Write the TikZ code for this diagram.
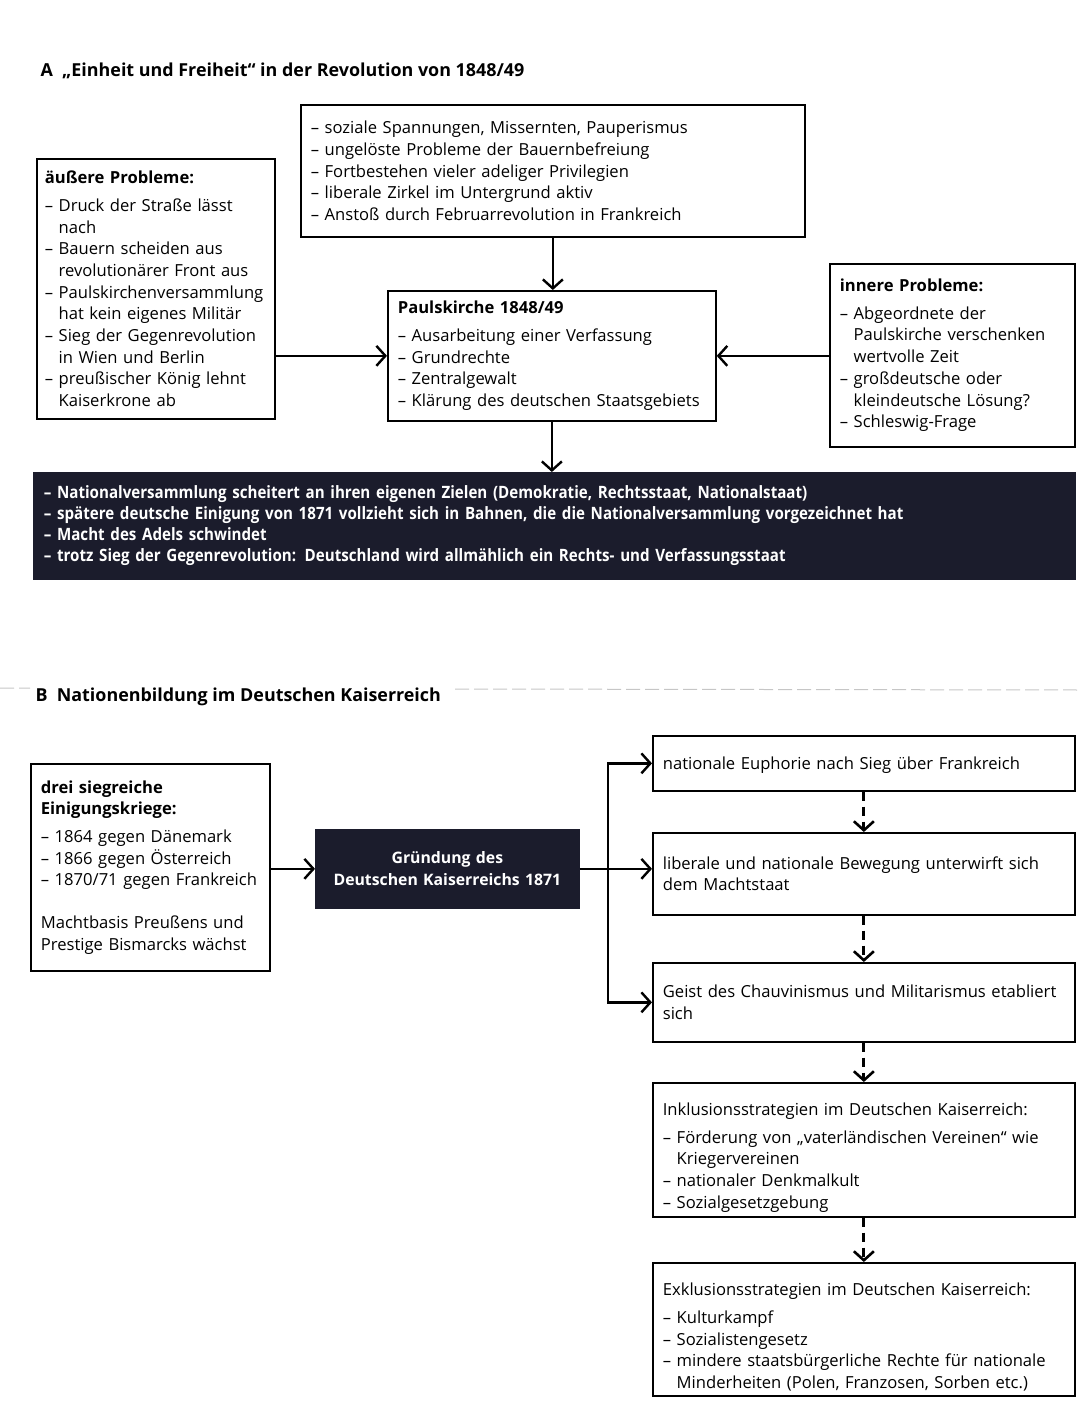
\documentclass[tikz,border=0pt]{standalone}
\usepackage{fontspec}
\setmainfont{Open Sans}
\newfontfamily\schmal[FakeStretch=0.89]{Open Sans}
\usetikzlibrary{arrows.meta}
\definecolor{nacht}{HTML}{1B1C2C}
\newlength\strichbreite
\newcommand{\punkt}[1]{\settowidth{\strichbreite}{– }\hangindent=\strichbreite\hangafter=1\noindent– #1\par}
\tikzset{
  every node/.style={font=\fontsize{16.6}{21.7}\selectfont},
  kasten/.style={draw, line width=1.7pt, inner xsep=10pt, inner ysep=0pt, align=left, anchor=north west,
    execute at begin node={\hyphenpenalty=10000\exhyphenpenalty=10000}},
  dunkel/.style={kasten, draw=nacht, fill=nacht, text=white},
  pfeil/.style={line width=2.4pt, -{Straight Barb[length=9pt,width=20pt,line width=2.4pt]}},
  strich/.style={line width=3pt, dash pattern=on 9pt off 6pt, -{Straight Barb[length=9pt,width=20pt,line width=2.6pt]}},
}
\begin{document}
\begin{tikzpicture}[x=1pt,y=-1pt]
\useasboundingbox (0,0) rectangle (1080,1420);
% Teil A
\node[anchor=west, font=\fontsize{17.9}{24}\selectfont\bfseries] (titelA) at (37,71) {A\ \ „Einheit und Freiheit“ in der Revolution von 1848/49};
\node[kasten, text width=484pt, minimum height=132pt] (ursachen) at (300,104) {%
\punkt{soziale Spannungen, Missernten, Pauperismus}
\punkt{ungelöste Probleme der Bauernbefreiung}
\punkt{Fortbestehen vieler adeliger Privilegien}
\punkt{liberale Zirkel im Untergrund aktiv}
\punkt{Anstoß durch Februarrevolution in Frankreich}};
\node[kasten, inner xsep=8pt, text width=222pt, minimum height=260pt] (aussen) at (36,158) {%
\textbf{äußere Probleme:}\par\vspace{6pt}
\punkt{Druck der Straße lässt\newline nach}
\punkt{Bauern scheiden aus\newline revolutionärer Front aus}
\punkt{Paulskirchenversammlung\newline hat kein eigenes Militär}
\punkt{Sieg der Gegenrevolution\newline in Wien und Berlin}
\punkt{preußischer König lehnt\newline Kaiserkrone ab}};
\node[kasten, text width=308pt, minimum height=130pt] (paul) at (387,290) {%
\textbf{Paulskirche 1848/49}\par\vspace{6pt}
\punkt{Ausarbeitung einer Verfassung}
\punkt{Grundrechte}
\punkt{Zentralgewalt}
\punkt{Klärung des deutschen Staatsgebiets}};
\node[kasten, text width=225pt, minimum height=183pt] (innen) at (829,263) {%
\textbf{innere Probleme:}\par\vspace{6pt}
\punkt{Abgeordnete der\newline Paulskirche verschenken\newline wertvolle Zeit}
\punkt{großdeutsche oder\newline kleindeutsche Lösung?}
\punkt{Schleswig-Frage}};
\node[dunkel, text width=1021pt, minimum height=106pt, font=\fontsize{17}{21}\selectfont\schmal\bfseries] (ergebnis) at (33,472) {%
\punkt{Nationalversammlung scheitert an ihren eigenen Zielen (Demokratie, Rechtsstaat, Nationalstaat)}
\punkt{spätere deutsche Einigung von 1871 vollzieht sich in Bahnen, die die Nationalversammlung vorgezeichnet hat}
\punkt{Macht des Adels schwindet}
\punkt{trotz Sieg der Gegenrevolution: Deutschland wird allmählich ein Rechts- und Verfassungsstaat}};
\draw[pfeil] (ursachen.south) -- (ursachen.south |- paul.north);
\draw[pfeil] (aussen.east |- paul) -- (paul.west);
\draw[pfeil] (innen.west |- paul) -- (paul.east);
\draw[pfeil] (paul.south) -- (paul.south |- ergebnis.north);
% Teil B
\draw[gray!45, line width=1pt, dash pattern=on 14pt off 5pt] (0,688) -- (30,688) (455,689) -- (1080,690);
\node[anchor=west, font=\fontsize{17.9}{24}\selectfont\bfseries] (titelB) at (32,697) {B\ \ Nationenbildung im Deutschen Kaiserreich};
\node[kasten, text width=219pt, minimum height=207pt] (kriege) at (30,763) {%
\textbf{drei siegreiche\\Einigungskriege:}\par\vspace{6pt}
\punkt{1864 gegen Dänemark}
\punkt{1866 gegen Österreich}
\punkt{1870/71 gegen Frankreich}\vspace{21pt}
Machtbasis Preußens und\\Prestige Bismarcks wächst};
\node[dunkel, text width=243pt, minimum height=78pt, align=center, font=\fontsize{15.8}{21.7}\selectfont\bfseries] (gruendung) at (315,829) {Gründung des\\Deutschen Kaiserreichs 1871};
\node[kasten, text width=402pt, minimum height=55pt] (euphorie) at (652,735) {\rule{0pt}{16pt}nationale Euphorie nach Sieg über Frankreich};
\node[kasten, text width=402pt, minimum height=82pt] (bewegung) at (652,832) {liberale und nationale Bewegung unterwirft sich\\dem Machtstaat};
\node[kasten, text width=402pt, minimum height=79pt] (geist) at (652,962) {Geist des Chauvinismus und Militarismus etabliert\\sich};
\node[kasten, text width=402pt, minimum height=134pt] (inklusion) at (652,1082) {%
\rule{0pt}{28pt}Inklusionsstrategien im Deutschen Kaiserreich:\par\vspace{6pt}
\punkt{Förderung von „vaterländischen Vereinen“ wie\newline Kriegervereinen}
\punkt{nationaler Denkmalkult}
\punkt{Sozialgesetzgebung}};
\node[kasten, text width=402pt, minimum height=133pt] (exklusion) at (652,1262) {%
\rule{0pt}{28pt}Exklusionsstrategien im Deutschen Kaiserreich:\par\vspace{6pt}
\punkt{Kulturkampf}
\punkt{Sozialistengesetz}
\punkt{mindere staatsbürgerliche Rechte für nationale\newline Minderheiten (Polen, Franzosen, Sorben etc.)}};
\coordinate (knoten) at (608,868);
\draw[pfeil] (kriege.east |- gruendung) -- (gruendung.west);
\draw[pfeil] (gruendung.east) -- (bewegung.west |- gruendung);
\draw[pfeil] (knoten) |- (euphorie.west);
\draw[pfeil] (knoten) |- (geist.west);
\draw[strich] (euphorie.south) -- (bewegung.north);
\draw[strich] (bewegung.south) -- (geist.north);
\draw[strich] (geist.south) -- (inklusion.north);
\draw[strich] (inklusion.south) -- (exklusion.north);
\end{tikzpicture}
\end{document}
